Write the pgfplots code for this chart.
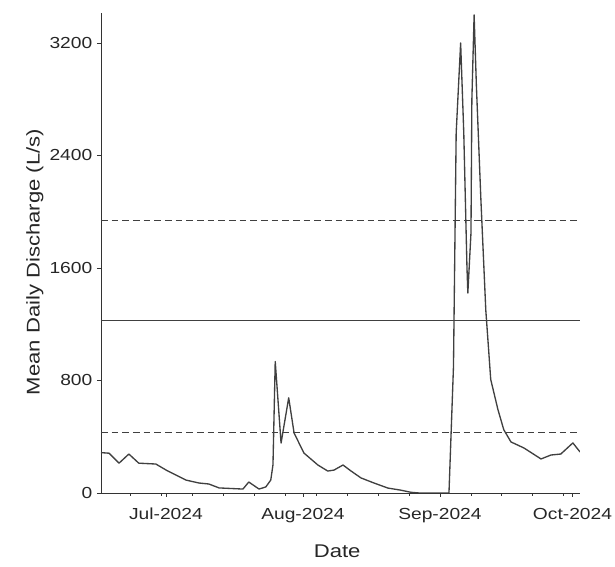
\documentclass[border=0pt]{standalone}
\usepackage{pgfplots}
\pgfplotsset{compat=1.18}
\usepackage{fontspec}
\setmainfont{Liberation Sans}[FakeStretch=1.2]
\begin{document}
\begin{tikzpicture}
\begin{axis}[
  at={(0,0)}, anchor=south west,
  scale only axis, width=359.25pt, height=360pt,
  xmin=-14.7, xmax=93.7, ymin=0, ymax=3413,
  axis x line*=bottom, axis y line*=left,
  axis line style={black!80, line width=0.6pt},
  xtick={0,31,62,92}, xticklabels={Jul-2024,Aug-2024,Sep-2024,Oct-2024},
  minor xtick={-8,-1,6,13,20,27,34,41,48,55,62,69,76,83,90},
  ytick={0,800,1600,2400,3200},
  tick align=outside, major tick length=3pt, minor tick length=2pt,
  tick style={black!80, line width=0.5pt},
  ticklabel style={font=\fontsize{12}{14}\selectfont, text=black!85},
  xticklabel style={yshift=-5pt},
  /pgf/number format/assume math mode=true,
  scaled y ticks=false,
  /pgf/number format/1000 sep={},
  xlabel={Date}, ylabel={Mean Daily Discharge (L/s)},
  label style={font=\fontsize{13.8}{16}\selectfont, text=black!85},
  xlabel style={at={(axis description cs:0.493,-0.121)}, anchor=center},
  ylabel style={at={(axis description cs:-0.138,0.481)}, anchor=center},
]
% reference lines
\addplot[black!75, line width=0.7pt, dash pattern=on 5pt off 3pt] coordinates {(-14.7,432) (93.7,432)};
\addplot[black!75, line width=0.7pt] coordinates {(-14.7,1228) (93.7,1228)};
\addplot[black!75, line width=0.7pt, dash pattern=on 5pt off 3pt] coordinates {(-14.7,1938) (93.7,1938)};
% discharge series
\addplot[black!75, line width=1pt, line join=round] table {
x y
-14.7 287
-12.86 283
-10.62 212
-8.39 277
-6.15 212
-2.29 206
0.04 163
4.51 92
7.46 71
9.70 64
12.03 36
17.42 28
18.74 78
21.07 28
22.60 43
23.72 92
24.22 200
24.73 935
26.05 355
27.78 677
29.00 426
31.23 284
34.38 199
36.62 156
38.04 163
40.07 199
41.90 156
44.14 107
47.08 71
50.23 35
53.18 20
55.41 5
57.35 0
64.05 0
65.07 900
65.68 2560
66.69 3200
67.40 2560
68.12 1607
68.32 1422
69.03 1849
69.23 2795
69.74 3400
70.25 2900
71.27 2088
72.38 1302
73.50 807
75.13 593
76.45 450
78.08 363
81.02 320
84.88 242
87.12 270
89.35 277
92.09 356
93.7 292
};
\end{axis}
\pgfresetboundingbox
\path[use as bounding box] (-75.75pt,-55.5pt) rectangle (385.5pt,369.75pt);
\end{tikzpicture}
\end{document}
